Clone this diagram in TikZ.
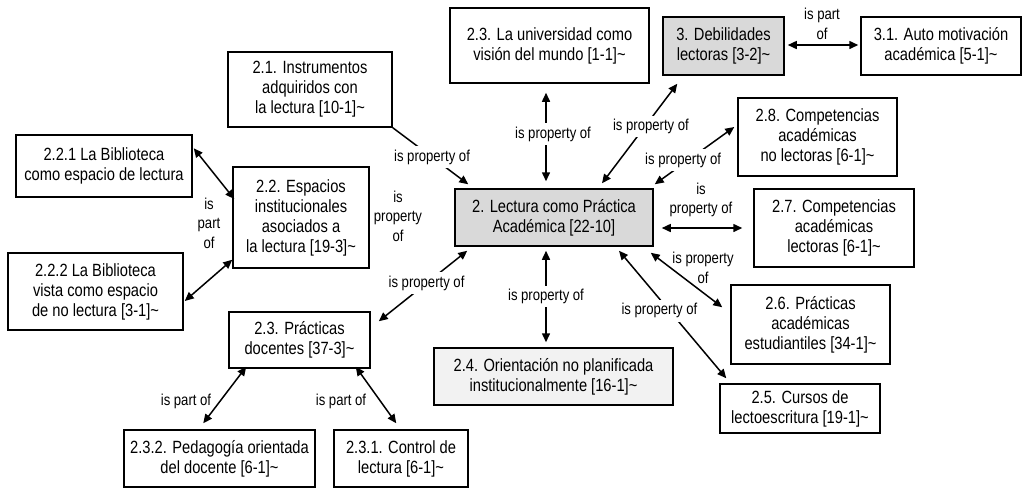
\documentclass[tikz,border=0pt]{standalone}
\usepackage{fontspec}
\setmainfont{Liberation Sans}[FakeStretch=0.83]
\usetikzlibrary{arrows.meta,calc}
\definecolor{boxgray}{RGB}{217,217,217}
\definecolor{boxlight}{RGB}{242,242,242}
\begin{document}
\begin{tikzpicture}[x=1pt,y=-1pt,
  box/.style={draw=black, line width=1.5pt, fill=white, align=center, inner sep=0pt,
    font=\fontsize{17.7}{20}\selectfont},
  lbl/.style={font=\fontsize{15.8}{19.5}\selectfont, align=center, inner sep=1pt},
  lblw/.style={lbl, fill=white, inner sep=3.5pt},
  tip/.tip={Triangle[length=9pt,width=8pt]},
  con/.style={line width=1.5pt, tip-tip},
  con1/.style={line width=1.5pt, -tip}]
\useasboundingbox[fill=white] (0,0) rectangle (1024,488);

% boxes
\node[box, minimum width=199pt, minimum height=75pt] (univ) at (549.5,45.5) {2.3. La universidad como\\visión del mundo [1-1]\textasciitilde};
\node[box, fill=boxgray, minimum width=121pt, minimum height=58pt] (deb) at (723.5,46) {3. Debilidades\\lectoras [3-2]\textasciitilde};
\node[box, minimum width=160pt, minimum height=58pt] (auto) at (941,46) {3.1. Auto motivación\\académica [5-1]\textasciitilde};
\node[box, minimum width=164pt, minimum height=75pt] (inst) at (310,89.5) {2.1. Instrumentos\\adquiridos con\\la lectura [10-1]\textasciitilde};
\node[box, minimum width=159pt, minimum height=78pt] (c28) at (817.5,137) {2.8. Competencias\\académicas\\no lectoras [6-1]\textasciitilde};
\node[box, fill=boxgray, minimum width=198pt, minimum height=57pt] (ctr) at (554,217.5) {2. Lectura como Práctica\\Académica [22-10]};
\node[box, minimum width=160pt, minimum height=78pt] (c27) at (834,228) {2.7. Competencias\\académicas\\lectoras [6-1]\textasciitilde};
\node[box, minimum width=176pt, minimum height=62pt] (b221) at (104,166) {2.2.1 La Biblioteca\\como espacio de lectura};
\node[box, minimum width=136pt, minimum height=101pt] (esp) at (301,217.5) {2.2. Espacios\\institucionales\\asociados a\\la lectura [19-3]\textasciitilde};
\node[box, minimum width=175pt, minimum height=77pt] (b222) at (95.5,291.5) {2.2.2 La Biblioteca\\vista como espacio\\de no lectura [3-1]\textasciitilde};
\node[box, minimum width=159pt, minimum height=79pt] (c26) at (810.5,324.5) {2.6. Prácticas\\académicas\\estudiantiles [34-1]\textasciitilde};
\node[box, minimum width=141pt, minimum height=56pt] (prac) at (299.5,340) {2.3. Prácticas\\docentes [37-3]\textasciitilde};
\node[box, fill=boxlight, minimum width=239pt, minimum height=57pt] (c24) at (553.5,376.5) {2.4. Orientación no planificada\\institucionalmente [16-1]\textasciitilde};
\node[box, minimum width=160pt, minimum height=49pt] (c25) at (800,408.5) {2.5. Cursos de\\lectoescritura [19-1]\textasciitilde};
\node[box, minimum width=191pt, minimum height=57pt] (c232) at (219.5,458.5) {2.3.2. Pedagogía orientada\\del docente [6-1]\textasciitilde};
\node[box, minimum width=134pt, minimum height=57pt] (c231) at (401,458.5) {2.3.1. Control de\\lectura [6-1]\textasciitilde};

% connectors
\draw[con1] (inst.south east) -- node[lblw, pos=0.52] (l1) {is property of} ($(ctr.north west)+(14,-4)$);
\draw[con] ($(univ.south)+(-3.5,9)$) -- node[lblw, pos=0.47, xshift=7pt] (l2) {is property of} ($(ctr.north)+(-8,-7)$);
\draw[con] ($(deb.south west)+(15,8)$) -- node[lblw, pos=0.43, xshift=6pt] (l3) {is property of} ($(ctr.north)+(48,-5)$);
\draw[con] ($(c28.west)+(-3,-10)$) -- node[lblw, pos=0.58, xshift=-5pt] (l4) {is property of} ($(ctr.north east)+(1,-4)$);
\draw[con] ($(ctr.east)+(8,10.5)$) -- ($(c27.west)+(-11,0)$);
\node[lbl] (l5) at (701,200) {is\\property of};
\draw[con] ($(ctr.south east)+(-3,6)$) -- ($(c26.north west)+(-8,23)$);
\node[lbl] (l6) at (703,268) {is property\\of};
\draw[con] ($(ctr.south)+(65,4)$) -- node[lblw, pos=0.47, xshift=-10pt] (l7) {is property of} ($(c25.north west)+(7,-5)$);
\draw[con] ($(ctr.south)+(-8,4)$) -- node[lblw, pos=0.5] (l8) {is property of} ($(c24.north)+(-7.5,-5)$);
\draw[con] ($(ctr.south west)+(13,4)$) -- node[lblw, pos=0.46] (l9) {is property of} ($(prac.north east)+(8,10)$);
\draw[con] ($(b221.north east)+(1,14)$) -- ($(esp.west)+(2,-18.5)$);
\node[lbl] (l10) at (209,223) {is\\part\\of};
\draw[con] ($(b222.east)+(1,9.5)$) -- ($(esp.south west)+(0,-9)$);
\node[lbl] (l11) at (398,216) {is\\property\\of};
\draw[con] ($(prac.south west)+(18,-2)$) -- ($(c232.north west)+(80,-6)$);
\node[lbl] (l12) at (186,401) {is part of};
\draw[con] ($(prac.south east)+(-15,-2)$) -- ($(c231.north west)+(63,-6)$);
\node[lbl] (l13) at (341,401) {is part of};
\draw[con] ($(deb.east)+(3,-1)$) -- ($(auto.west)+(-2,-1)$);
\node[lbl] (l14) at (822,24) {is part\\of};
\end{tikzpicture}
\end{document}
